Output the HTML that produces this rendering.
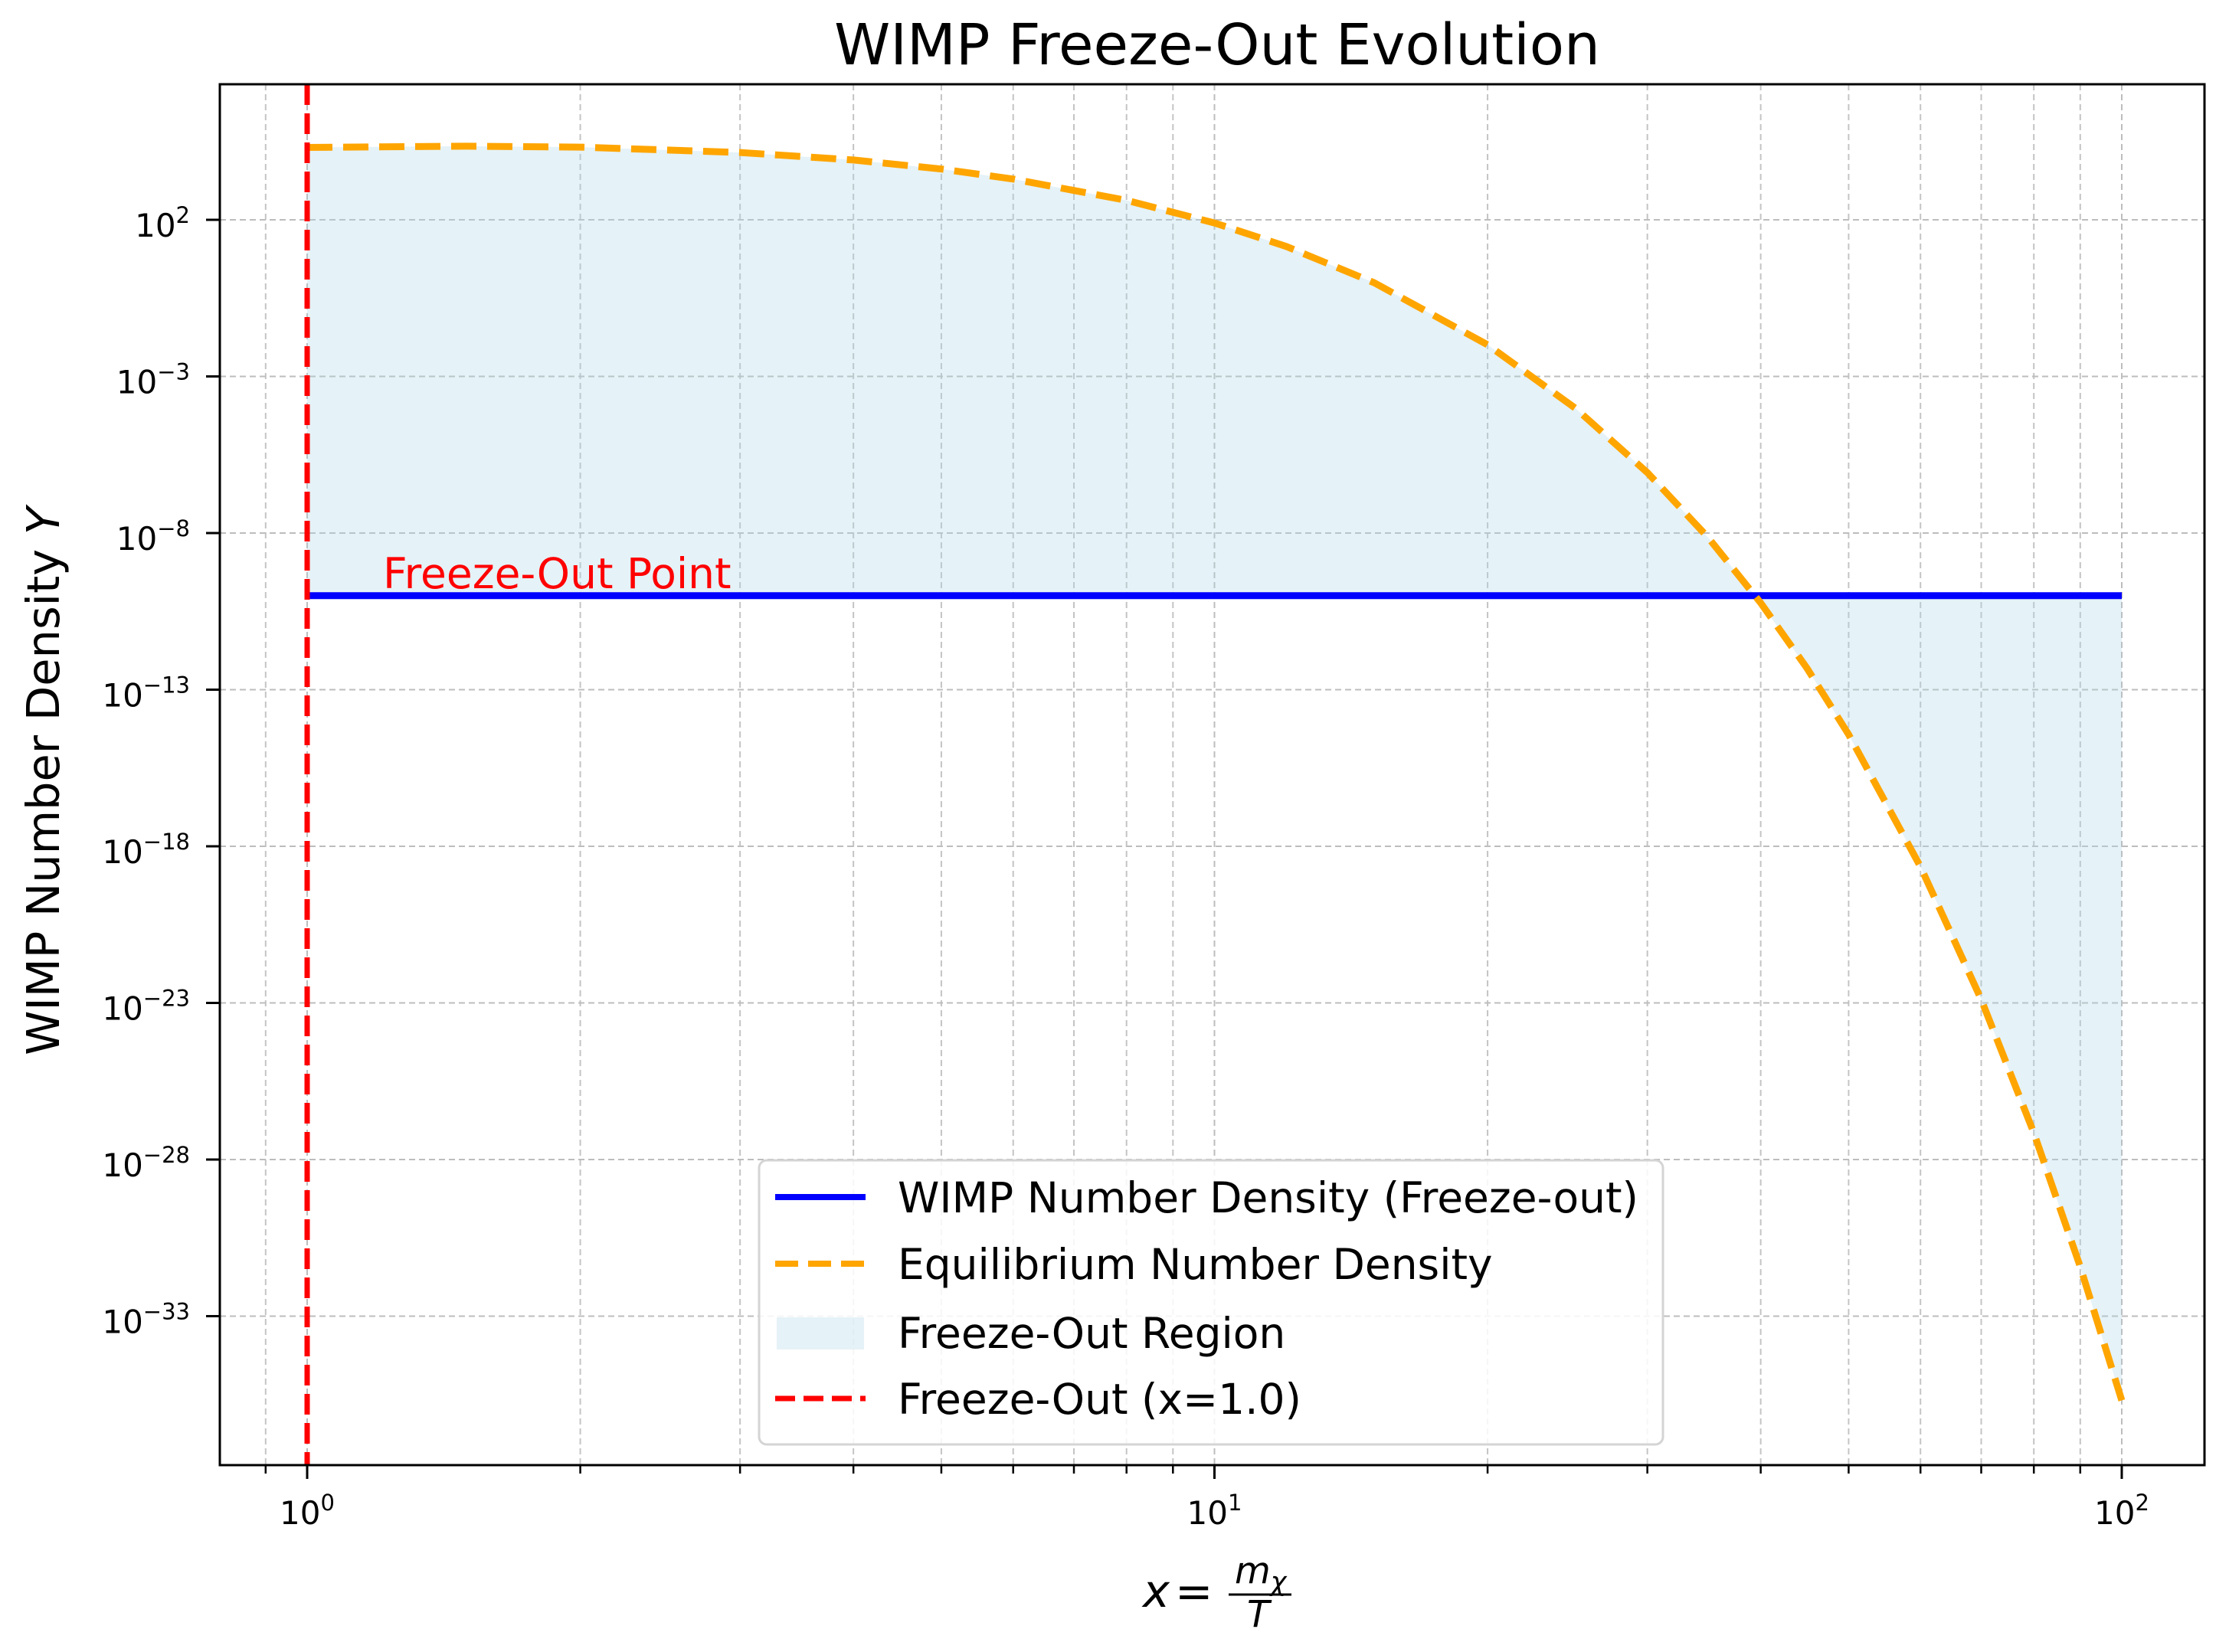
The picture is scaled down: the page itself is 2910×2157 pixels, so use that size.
<!DOCTYPE html>
<html><head><meta charset="utf-8"><title>WIMP Freeze-Out Evolution</title>
<style>
html,body{margin:0;padding:0;background:#fff;}
svg{display:block;font-family:"DejaVu Sans","Liberation Sans",sans-serif;}
</style></head>
<body>
<svg id="chart" width="2910" height="2157" viewBox="0 0 2910 2157" xmlns="http://www.w3.org/2000/svg">
<rect x="0" y="0" width="2910" height="2157" fill="#fff"/>
<g id="grid"></g>
<g id="marks"></g>
<rect x="287" y="110" width="2591" height="1803" fill="none" stroke="#000" stroke-width="3"/>
<g id="ticks"></g>
<text x="1589" y="84" font-size="74" text-anchor="middle" fill="#000">WIMP Freeze-Out Evolution</text>
<text transform="translate(77,1020) rotate(-90)" font-size="59" text-anchor="middle" fill="#000">WIMP Number Density <tspan font-style="italic">Y</tspan></text>
<g font-style="italic" fill="#000">
  <text x="1492" y="2098" font-size="59">x</text>
  <text x="1534" y="2098" font-size="59" font-style="normal">=</text>
  <text x="1612" y="2067" font-size="48">m<tspan font-size="35" dy="10">χ</tspan></text>
  <line x1="1604" y1="2082" x2="1686" y2="2082" stroke="#000" stroke-width="3"/>
  <text x="1628" y="2124" font-size="48">T</text>
</g>
<text x="500" y="768" font-size="55" fill="#ff0000">Freeze-Out Point</text>
<g id="legend">
  <rect x="991" y="1515" width="1180" height="371" rx="10" fill="#fff" fill-opacity="0.85" stroke="#d4d4d4" stroke-width="3"/>
  <g>
    <line x1="1012" y1="1563" x2="1130" y2="1563" stroke="#0000ff" stroke-width="8"/>
    <text x="1172" y="1583" font-size="55" fill="#000">WIMP Number Density (Freeze-out)</text>
  </g>
  <g>
    <line x1="1012" y1="1650" x2="1130" y2="1650" stroke="#ffa500" stroke-width="8" stroke-dasharray="30 13"/>
    <text x="1172" y="1670" font-size="55" fill="#000">Equilibrium Number Density</text>
  </g>
  <g>
    <rect x="1014" y="1720" width="114" height="42" fill="#add8e6" fill-opacity="0.32"/>
    <text x="1172" y="1760" font-size="55" fill="#000">Freeze-Out Region</text>
  </g>
  <g>
    <line x1="1012" y1="1826" x2="1130" y2="1826" stroke="#ff0000" stroke-width="7" stroke-dasharray="26 11"/>
    <text x="1172" y="1846" font-size="55" fill="#000">Freeze-Out (x=1.0)</text>
  </g>
</g>
</svg>
<script>
// ---- data ----
const xValues = [1, 1.5, 2, 3, 4, 5, 6, 8, 10, 12, 15, 20, 25, 30, 35, 40, 45, 50, 60, 70, 80, 90, 100];
const eqLog10 = [4.31, 4.35, 4.32, 4.15, 3.91, 3.62, 3.30, 2.62, 1.90, 1.15, -0.01, -1.99, -4.02, -6.07, -8.14, -10.23, -12.32, -14.43, -18.65, -22.89, -27.15, -31.42, -35.69];
const freezeLog10 = [-10.0];
const freezeX = [1.0];
const yTickExps = [2, -3, -8, -13, -18, -23, -28, -33];
const xTickExps = [0, 1, 2];
const xMinorMantissas = [2, 3, 4, 5, 6, 7, 8, 9];

// ---- axes ----
const NS = "http://www.w3.org/2000/svg";
const L = 287, R = 2878, T = 110, B = 1913;
function X(v) { return 401 + 1184.5 * Math.log10(v); }
function Y(lg) { return 287 - (lg - 2) * 40.9; }
function mk(tag, attrs, parent) {
  const e = document.createElementNS(NS, tag);
  for (const k in attrs) e.setAttribute(k, attrs[k]);
  parent.appendChild(e);
  return e;
}
const grid = document.getElementById('grid');
const marks = document.getElementById('marks');
const ticks = document.getElementById('ticks');

const xMinor = [0.9];
for (let d = 0; d < 2; d++) for (const m of xMinorMantissas) xMinor.push(m * Math.pow(10, d));

for (const v of xMinor) {
  const px = X(v); if (px < L || px > R) continue;
  const g = mk('line', {x1: px, y1: T, x2: px, y2: B, stroke: '#c4c4c4', 'stroke-width': 2, 'stroke-dasharray': '8 5'}, grid);
  
  
}
for (const e of xTickExps) {
  const px = X(Math.pow(10, e));
  const g = mk('line', {x1: px, y1: T, x2: px, y2: B, stroke: '#bdbdbd', 'stroke-width': 2, 'stroke-dasharray': '8 5'}, grid);
  
  
}
for (const e of yTickExps) {
  const py = Y(e);
  const g = mk('line', {x1: L, y1: py, x2: R, y2: py, stroke: '#bdbdbd', 'stroke-width': 2, 'stroke-dasharray': '8 5'}, grid);
  
  
}

const fy = Y(freezeLog10[0]);
let d = '';
xValues.forEach((v, i) => { d += (i ? 'L' : 'M') + X(v).toFixed(1) + ',' + Y(eqLog10[i]).toFixed(1); });
d += 'L' + X(xValues[xValues.length - 1]).toFixed(1) + ',' + fy + 'L' + X(xValues[0]).toFixed(1) + ',' + fy + 'Z';
const fill = mk('path', {d: d, fill: '#add8e6', 'fill-opacity': 0.32, stroke: 'none'}, marks);



const blue = mk('line', {x1: X(xValues[0]), y1: fy, x2: X(xValues[xValues.length - 1]), y2: fy, stroke: '#0000ff', 'stroke-width': 9}, marks);



let dl = '';
xValues.forEach((v, i) => { dl += (i ? 'L' : 'M') + X(v).toFixed(1) + ',' + Y(eqLog10[i]).toFixed(1); });
const eq = mk('path', {d: dl, fill: 'none', stroke: '#ffa500', 'stroke-width': 9, 'stroke-dasharray': '33 14', 'stroke-linejoin': 'round'}, marks);



const rx = X(freezeX[0]);
const red = mk('line', {x1: rx, y1: T, x2: rx, y2: B, stroke: '#ff0000', 'stroke-width': 7, 'stroke-dasharray': '27 11'}, marks);



for (const v of xMinor) {
  const px = X(v); if (px < L || px > R) continue;
  const t = mk('line', {x1: px, y1: B, x2: px, y2: B + 11, stroke: '#000', 'stroke-width': 2.5}, ticks);
  
  
}
for (const e of xTickExps) {
  const px = X(Math.pow(10, e));
  const t = mk('line', {x1: px, y1: B, x2: px, y2: B + 18, stroke: '#000', 'stroke-width': 3}, ticks);
  
  
  const tx = mk('text', {x: px, y: 1990, 'font-size': 42, 'text-anchor': 'middle', fill: '#000'}, ticks);
  
  
  tx.appendChild(document.createTextNode('10'));
  const sup = mk('tspan', {'font-size': 29, dy: -18}, tx);
  sup.textContent = String(e);
}
for (const e of yTickExps) {
  const py = Y(e);
  const t = mk('line', {x1: L - 18, y1: py, x2: L, y2: py, stroke: '#000', 'stroke-width': 3}, ticks);
  
  
  const tx = mk('text', {x: 248, y: py + 22, 'font-size': 42, 'text-anchor': 'end', fill: '#000'}, ticks);
  
  
  tx.appendChild(document.createTextNode('10'));
  const sup = mk('tspan', {'font-size': 29, dy: -18}, tx);
  sup.textContent = (e < 0 ? '\u2212' + (-e) : String(e));
}
</script>
</body></html>
